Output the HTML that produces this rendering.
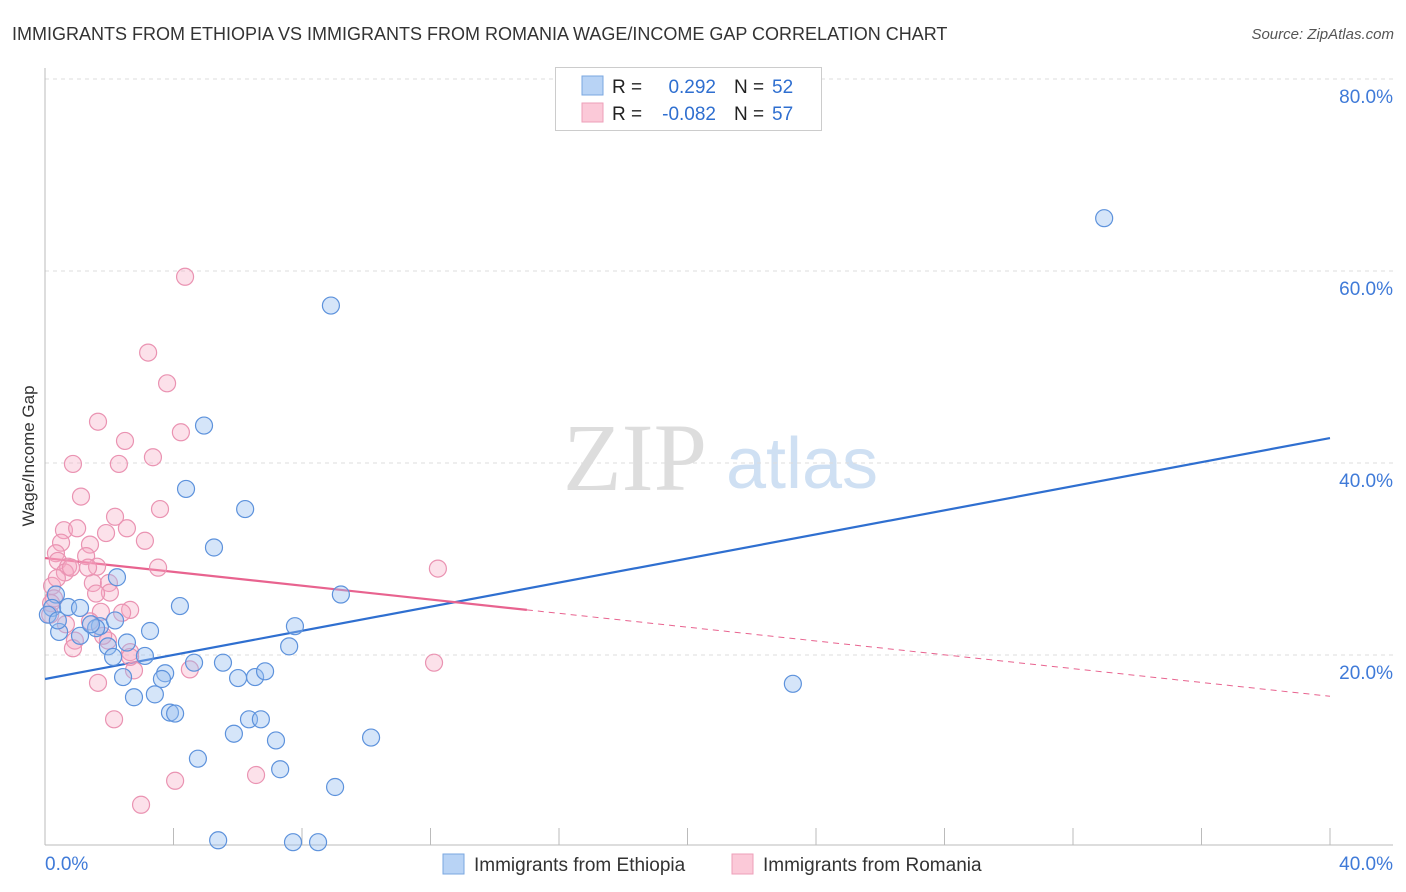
<!DOCTYPE html>
<html><head><meta charset="utf-8"><style>
body{margin:0;background:#fff;width:1406px;height:892px;overflow:hidden;font-family:"Liberation Sans",sans-serif}
svg{position:absolute;left:0;top:0}
</style></head><body>
<svg id="chart" width="1406" height="892">
<text x="12" y="40" font-size="18" fill="#333">IMMIGRANTS FROM ETHIOPIA VS IMMIGRANTS FROM ROMANIA WAGE/INCOME GAP CORRELATION CHART</text>
<text x="1394" y="39" font-size="15" fill="#555" font-style="italic" text-anchor="end">Source: ZipAtlas.com</text>
<text x="34" y="456" font-size="17" fill="#333" text-anchor="middle" transform="rotate(-90 34 456)">Wage/Income Gap</text>
<g>
<text x="635" y="490" font-size="96" fill="#ddd" font-family="Liberation Serif,serif" text-anchor="middle">ZIP</text>
<text x="802" y="488" font-size="72" fill="#cfe0f3" text-anchor="middle">atlas</text>
</g>
<g id="grid"></g>
<g id="axes"></g>
<g id="lines"></g>
<g id="pts"></g>
<g>
<rect x="555.5" y="67.5" width="266" height="63" fill="#fff" stroke="#ccc"/>
<rect x="582" y="76" width="21" height="19" fill="#b8d3f5" stroke="#7aa7e0"/>
<rect x="582" y="103" width="21" height="19" fill="#fbc9d8" stroke="#ee9fb9"/>
<text x="612" y="93" font-size="19" fill="#222">R =</text>
<text x="716" y="93" font-size="19" fill="#2f6fd0" text-anchor="end">0.292</text>
<text x="734" y="93" font-size="19" fill="#222">N =</text>
<text x="772" y="93" font-size="19" fill="#2f6fd0">52</text>
<text x="612" y="120" font-size="19" fill="#222">R =</text>
<text x="716" y="120" font-size="19" fill="#2f6fd0" text-anchor="end">-0.082</text>
<text x="734" y="120" font-size="19" fill="#222">N =</text>
<text x="772" y="120" font-size="19" fill="#2f6fd0">57</text>
</g>
<g>
<rect x="443" y="854" width="21" height="20" fill="#b8d3f5" stroke="#7aa7e0"/>
<text x="474" y="871" font-size="19" fill="#333">Immigrants from Ethiopia</text>
<rect x="732" y="854" width="21" height="20" fill="#fbc9d8" stroke="#ee9fb9"/>
<text x="763" y="871" font-size="19" fill="#333">Immigrants from Romania</text>
</g>
</svg>
<script>
const yTicks=[20,40,60,80];
const xTickCount=[0,4,8,12,16,20,24,28,32,36,40];
const xLabels=["0.0%","40.0%"];
const blueX=[32.97,8.9,4.95,4.39,6.23,5.26,2.24,9.21,4.2,0.34,0.22,0.72,0.09,0.44,0.4,1.09,1.71,1.59,1.96,2.55,3.27,2.18,7.78,7.6,2.12,3.11,2.43,3.74,3.64,4.64,5.54,6.01,6.54,6.85,2.77,3.42,3.89,4.05,6.35,6.72,5.88,7.19,10.15,4.76,7.32,9.03,5.39,7.72,8.5,23.28,1.43,1.09];
const blueY=[65.5,56.4,43.9,37.3,35.2,31.2,28.1,26.3,25.1,26.3,24.9,25.0,24.2,22.4,23.6,22.0,23.0,22.8,20.9,21.3,22.5,23.6,23.0,20.9,19.8,19.9,17.7,18.1,17.5,19.2,19.2,17.6,17.7,18.3,15.6,15.9,14.0,13.9,13.3,13.3,11.8,11.1,11.4,9.2,8.1,6.25,0.7,0.5,0.5,17.0,23.2,24.9];
const pinkX=[4.36,3.21,3.8,1.65,4.23,2.49,3.36,2.3,0.87,1.12,3.58,2.18,0.59,1.0,2.55,1.9,3.11,0.5,1.4,0.34,1.28,0.4,0.72,1.62,0.62,0.81,12.23,3.52,0.22,1.49,1.99,0.28,2.02,1.59,2.65,2.4,1.74,0.19,1.4,0.65,0.93,1.96,2.65,2.77,4.51,2.65,1.65,0.87,12.11,2.15,6.57,4.05,2.99,0.16,0.37,1.34,1.81];
const pinkY=[59.4,51.5,48.3,44.3,43.2,42.3,40.6,39.9,39.9,36.5,35.2,34.4,33.0,33.2,33.2,32.7,31.9,31.7,31.5,30.6,30.3,29.8,29.2,29.2,28.6,29.1,29.0,29.1,27.2,27.5,27.5,25.9,26.5,26.4,24.7,24.4,24.5,25.4,23.5,23.2,21.5,21.5,20.3,18.4,18.5,19.8,17.1,20.7,19.2,13.3,7.5,6.9,4.4,24.2,28.0,29.1,22.0];
const blueTrend=[17.5,42.6];
const pinkTrend=[30.1,15.7];
const pinkSolidEnd=15.0;

const NS="http://www.w3.org/2000/svg";
const X0=45,X1=1330,Y0=847,Y1=79;
const sx=v=>X0+(v/40)*(X1-X0);
const sy=v=>Y0-(v/80)*(Y0-Y1);
function mk(tag,attrs,parent){const e=document.createElementNS(NS,tag);for(const k in attrs)e.setAttribute(k,attrs[k]);parent.appendChild(e);return e;}
const grid=document.getElementById('grid'),axes=document.getElementById('axes'),lines=document.getElementById('lines'),pts=document.getElementById('pts');
yTicks.forEach(t=>{
 const l=mk('line',{x1:X0,x2:1393,y1:sy(t),y2:sy(t),stroke:'#ddd','stroke-dasharray':'4,4'},grid);
 
 
 const tx=mk('text',{x:1393,y:sy(t)+24,'font-size':19,fill:'#3f7ad8','text-anchor':'end'},grid);
 tx.textContent=t.toFixed(1)+'%';
 
 
});
const ya=mk('line',{x1:X0,x2:X0,y1:68,y2:845,stroke:'#bbb'},axes);


const xa=mk('line',{x1:X0,x2:1393,y1:845,y2:845,stroke:'#bbb'},axes);


xTickCount.forEach(t=>{if(t===0)return;
 const l=mk('line',{x1:sx(t),x2:sx(t),y1:828,y2:845,stroke:'#bbb'},axes);
 
 
});
const xl0=mk('text',{x:45,y:870,'font-size':19,fill:'#3f7ad8'},axes);xl0.textContent=xLabels[0];


const xl1=mk('text',{x:1393,y:870,'font-size':19,fill:'#3f7ad8','text-anchor':'end'},axes);xl1.textContent=xLabels[1];


function dots(xs,ys,fill,stroke,name){xs.forEach((v,i)=>{
 const c=mk('circle',{cx:sx(v),cy:sy(ys[i]),r:8.5,fill:fill,stroke:stroke,'stroke-width':1.2},pts);
 
 
});}
dots(pinkX,pinkY,'rgba(246,170,196,0.35)','#ea93b2','romania-point');
dots(blueX,blueY,'rgba(150,190,240,0.4)','#5d92dc','ethiopia-point');
const pv=x=>pinkTrend[0]+(pinkTrend[1]-pinkTrend[0])*x/40;
const bl=mk('line',{x1:sx(0),y1:sy(blueTrend[0]),x2:sx(40),y2:sy(blueTrend[1]),stroke:'#2f6fd0','stroke-width':2.2},lines);


const pl=mk('line',{x1:sx(0),y1:sy(pv(0)),x2:sx(pinkSolidEnd),y2:sy(pv(pinkSolidEnd)),stroke:'#e8638f','stroke-width':2.2},lines);


const pd=mk('line',{x1:sx(pinkSolidEnd),y1:sy(pv(pinkSolidEnd)),x2:sx(40),y2:sy(pv(40)),stroke:'#e8638f','stroke-width':1,'stroke-dasharray':'6,5'},lines);


</script>
</body></html>
